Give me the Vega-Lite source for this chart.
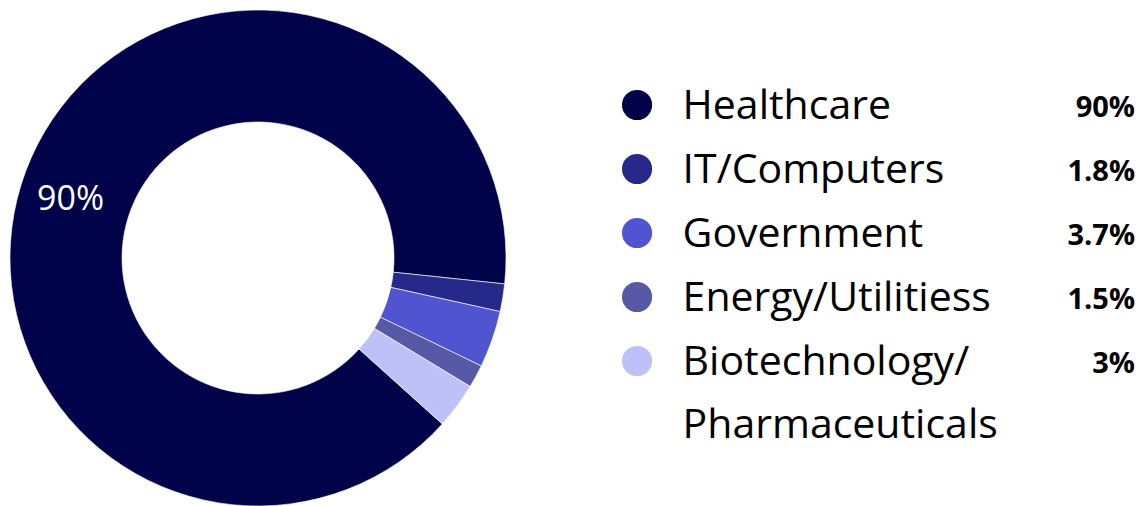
{
  "$schema": "https://vega.github.io/schema/vega-lite/v6.json",
  "padding": 0,
  "background": "white",
  "config": {"view": {"stroke": null}, "concat": {"spacing": 0}, "font": "Open Sans"},
  "data": {"values": [
    {"category": "Healthcare", "share": 90, "pct": "90%", "order": 5},
    {"category": "IT/Computers", "share": 1.8, "pct": "1.8%", "order": 1},
    {"category": "Government", "share": 3.7, "pct": "3.7%", "order": 2},
    {"category": "Energy/Utilitiess", "share": 1.5, "pct": "1.5%", "order": 3},
    {"category": "Biotechnology/ Pharmaceuticals", "share": 3, "pct": "3%", "order": 4}
  ]},
  "resolve": {"scale": {"color": "shared"}},
  "hconcat": [
    {
      "width": 516,
      "height": 506,
      "layer": [
        {
          "mark": {"type": "arc", "outerRadius": 248, "innerRadius": 136, "stroke": "#ffffff", "strokeWidth": 0.6, "yOffset": 5},
          "encoding": {
            "theta": {"field": "share", "type": "quantitative", "stack": true, "scale": {"range": [1.67552, 7.95870]}},
            "color": {"field": "category", "type": "nominal", "legend": null,
              "scale": {"domain": ["Healthcare", "IT/Computers", "Government", "Energy/Utilitiess", "Biotechnology/ Pharmaceuticals"],
                        "range": ["#00024a", "#26298a", "#5154d0", "#5659a5", "#bec1f8"]}},
            "order": {"field": "order", "type": "quantitative"}
          }
        },
        {
          "mark": {"type": "text", "radius": 192, "fontSize": 34, "color": "white", "align": "center", "baseline": "middle", "dx": -12, "dy": 25},
          "encoding": {
            "theta": {"field": "share", "type": "quantitative", "stack": true},
            "detail": {"field": "category", "type": "nominal"},
            "order": {"field": "order", "type": "quantitative"},
            "text": {"condition": {"test": "datum.category === 'Healthcare'", "field": "pct"}, "value": ""}
          }
        }
      ]
    },
    {
      "width": 624,
      "height": 468,
      "encoding": {
        "y": {"field": "category", "type": "nominal", "axis": null,
          "scale": {"type": "point", "padding": 0, "range": [105, 361], "domain": ["Healthcare", "IT/Computers", "Government", "Energy/Utilitiess", "Biotechnology/ Pharmaceuticals"]}}
      },
      "layer": [
        {
          "mark": {"type": "point", "filled": true, "size": 908, "opacity": 1, "shape": "circle"},
          "encoding": {
            "x": {"datum": 19.4, "type": "quantitative", "scale": {"domain": [0, 100]}, "axis": null},
            "color": {"field": "category", "type": "nominal", "legend": null}
          }
        },
        {
          "mark": {"type": "text", "align": "left", "baseline": "alphabetic", "dy": 14, "fontSize": 41, "lineBreak": " ", "lineHeight": 63, "color": "#000000"},
          "encoding": {
            "x": {"datum": 26.7, "type": "quantitative"},
            "text": {"field": "category"}
          }
        },
        {
          "mark": {"type": "text", "align": "right", "baseline": "alphabetic", "dy": 12, "fontSize": 29, "fontWeight": "bold", "color": "#000000"},
          "encoding": {
            "x": {"datum": 99.2, "type": "quantitative"},
            "text": {"field": "pct"}
          }
        }
      ]
    }
  ]
}
